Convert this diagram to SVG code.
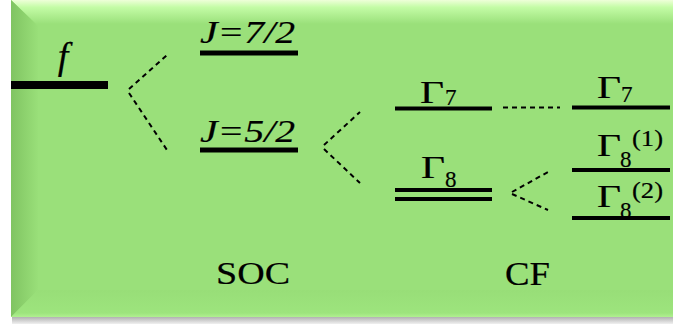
<svg xmlns="http://www.w3.org/2000/svg" width="673" height="324" viewBox="0 0 673 324">
  <defs>
    <linearGradient id="topBevel" x1="0" y1="0" x2="0" y2="1">
      <stop offset="0" stop-color="#eeffd8"/>
      <stop offset="0.3" stop-color="#c4fca6"/>
      <stop offset="1" stop-color="#9ae07a"/>
    </linearGradient>
    <linearGradient id="leftBevel" x1="0" y1="0" x2="1" y2="0">
      <stop offset="0" stop-color="#80c462"/>
      <stop offset="1" stop-color="#99df79"/>
    </linearGradient>
    <linearGradient id="botBevel" x1="0" y1="0" x2="0" y2="1">
      <stop offset="0" stop-color="#98de78"/>
      <stop offset="0.85" stop-color="#9de47d"/>
      <stop offset="1" stop-color="#b0f090"/>
    </linearGradient>
    <linearGradient id="shadow" x1="0" y1="0" x2="0" y2="1">
      <stop offset="0" stop-color="#a8a8a8"/>
      <stop offset="1" stop-color="#f0f0f0"/>
    </linearGradient>
    <style>
      .lvl { stroke: #000; fill: none; }
      .dash { stroke: #000; stroke-width: 2; stroke-dasharray: 5 4; fill: none; }
      .t { fill: #000; stroke: #000; stroke-width: 0.2; font-family: "Liberation Serif", "Times New Roman", serif; }
      .it { font-style: italic; }
    </style>
  </defs>

  <!-- background panel -->
  <rect x="0" y="0" width="673" height="324" fill="#ffffff"/>
  <rect x="12" y="316" width="661" height="8" fill="url(#shadow)"/>
  <rect x="11" y="0" width="662" height="317" fill="#9ae07a"/>
  <polygon points="11,0 673,0 673,24 36,24" fill="url(#topBevel)"/>
  <polygon points="11,0 38,26 38,290 11,317" fill="url(#leftBevel)"/>
  <polygon points="11,317 38,290 673,290 673,317" fill="url(#botBevel)"/>

  <!-- connectors -->
  <g id="connectors">
    <line class="dash" x1="129" y1="89" x2="167" y2="55"/>
    <line class="dash" x1="129" y1="93" x2="167" y2="150"/>
    <line class="dash" x1="324" y1="145" x2="360" y2="112"/>
    <line class="dash" x1="324" y1="149" x2="360" y2="183"/>
    <line class="dash" x1="503" y1="107.5" x2="560" y2="107.5"/>
    <line class="dash" x1="512" y1="192" x2="548" y2="172"/>
    <line class="dash" x1="512" y1="194" x2="548" y2="210"/>
  </g>

  <!-- f level -->
  <g id="f-level">
    <line class="lvl" x1="11" y1="85" x2="108" y2="85" stroke-width="8"/>
    <text class="t it" x="63" y="69" font-size="38" text-anchor="middle">f</text>
  </g>

  <!-- J=7/2 -->
  <g id="j72">
    <line class="lvl" x1="200" y1="53" x2="298" y2="53" stroke-width="5"/>
    <text class="t it" x="200" y="43" font-size="32" textLength="95" lengthAdjust="spacingAndGlyphs">J=7/2</text>
  </g>

  <!-- J=5/2 -->
  <g id="j52">
    <line class="lvl" x1="200" y1="150" x2="298" y2="150" stroke-width="5"/>
    <text class="t it" x="200" y="142" font-size="32" textLength="95" lengthAdjust="spacingAndGlyphs">J=5/2</text>
  </g>

  <!-- Gamma7 middle -->
  <g id="g7-mid">
    <line class="lvl" x1="395" y1="108.5" x2="492" y2="108.5" stroke-width="4"/>
    <text class="t" x="420" y="103" font-size="31" textLength="24" lengthAdjust="spacingAndGlyphs">Γ</text>
    <text class="t" x="445" y="105" font-size="23">7</text>
  </g>

  <!-- Gamma8 middle (double) -->
  <g id="g8-mid">
    <line class="lvl" x1="395" y1="190" x2="492" y2="190" stroke-width="4"/>
    <line class="lvl" x1="395" y1="199" x2="492" y2="199" stroke-width="4"/>
    <text class="t" x="421" y="178" font-size="31" textLength="24" lengthAdjust="spacingAndGlyphs">Γ</text>
    <text class="t" x="445" y="187" font-size="23">8</text>
  </g>

  <!-- Gamma7 right -->
  <g id="g7-right">
    <line class="lvl" x1="572" y1="107.5" x2="670" y2="107.5" stroke-width="4"/>
    <text class="t" x="597" y="98" font-size="31" textLength="24" lengthAdjust="spacingAndGlyphs">Γ</text>
    <text class="t" x="621" y="102" font-size="23">7</text>
  </g>

  <!-- Gamma8(1) right -->
  <g id="g8-1">
    <line class="lvl" x1="572" y1="170" x2="670" y2="170" stroke-width="4"/>
    <text class="t" x="597" y="156" font-size="31" textLength="24" lengthAdjust="spacingAndGlyphs">Γ</text>
    <text class="t" x="620" y="167" font-size="23">8</text>
    <text class="t" x="632" y="146" font-size="23" textLength="31" lengthAdjust="spacingAndGlyphs">(1)</text>
  </g>

  <!-- Gamma8(2) right -->
  <g id="g8-2">
    <line class="lvl" x1="572" y1="218" x2="670" y2="218" stroke-width="4"/>
    <text class="t" x="597" y="207" font-size="31" textLength="24" lengthAdjust="spacingAndGlyphs">Γ</text>
    <text class="t" x="620" y="218" font-size="23">8</text>
    <text class="t" x="632" y="198" font-size="23" textLength="31" lengthAdjust="spacingAndGlyphs">(2)</text>
  </g>

  <!-- stage labels -->
  <g id="labels">
    <text class="t" x="216" y="284" font-size="32" textLength="74" lengthAdjust="spacingAndGlyphs">SOC</text>
    <text class="t" x="505" y="285" font-size="33" textLength="45" lengthAdjust="spacingAndGlyphs">CF</text>
  </g>
</svg>
